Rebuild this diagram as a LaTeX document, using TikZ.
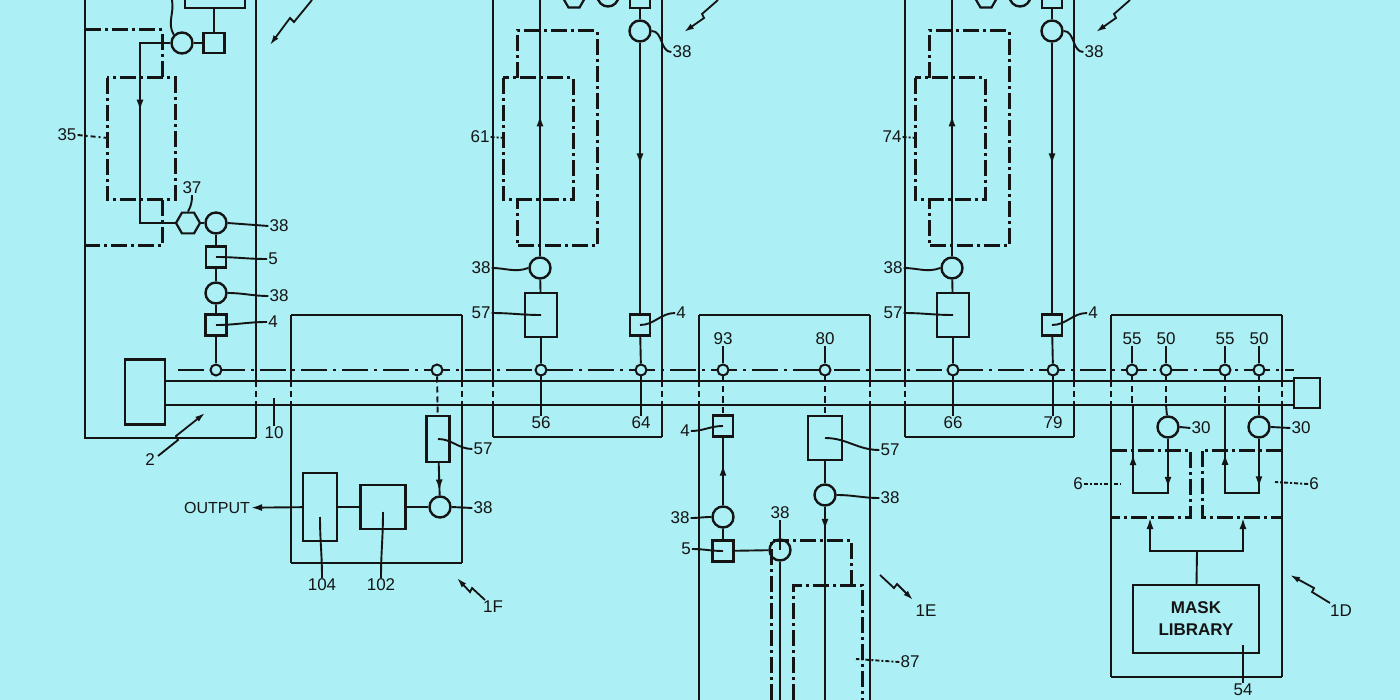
\documentclass[tikz,border=0pt]{standalone}
\usepackage{fontspec}
\setmainfont{Liberation Sans}
\usetikzlibrary{arrows.meta,shapes.geometric,decorations.markings}
\definecolor{bg}{RGB}{172,239,245}
\definecolor{ink}{RGB}{20,20,20}
\begin{document}
\begin{tikzpicture}[x=1pt,y=-1pt,
  ln/.style={draw=ink,line width=2.6pt},
  thin/.style={draw=ink,line width=1.9pt},
  dd/.style={draw=ink,line width=3pt,dash pattern=on 16pt off 4pt on 3pt off 4pt},
  dsh/.style={draw=ink,line width=1.9pt,dash pattern=on 6pt off 4pt},
  bx/.style={draw=ink,line width=2.4pt,fill=none,inner sep=0pt},
  lb/.style={font=\fontsize{17}{17}\selectfont,text=ink,inner sep=1pt},
  big/.style={draw=ink,line width=2.4pt,fill=bg,circle,minimum size=21pt,inner sep=0pt},
  sm/.style={draw=ink,line width=2pt,fill=bg,circle,minimum size=11pt,inner sep=0pt},
  hex/.style={draw=ink,line width=2.2pt,fill=bg,regular polygon,regular polygon sides=6,minimum size=24pt,inner sep=0pt},
  arr/.style={postaction={decorate},decoration={markings,mark=at position #1 with {\arrow[ink]{Latex[length=11pt,width=7pt]}}}},
  zz/.style={draw=ink,line width=1.8pt,-{Latex[length=10pt,width=6pt]}}]
\fill[bg] (0,0) rectangle (1400,700);
\useasboundingbox (0,0) rectangle (1400,700);

% ---------- bus ----------
\node[bx,minimum width=40pt,minimum height=65pt] (hd) at (145,392) {};
\node[bx,minimum width=26pt,minimum height=30pt] (tl) at (1307,393) {};
\coordinate (bt) at (165,381); \coordinate (bb) at (165,405);
\draw[ln,line width=2.8pt] (bt) -- (1294,381);
\draw[ln,line width=2.8pt] (bb) -- (1294,405);
\draw[thin,line width=1.6pt,dash pattern=on 26pt off 6pt on 3pt off 6pt] (178,370) -- (1294,370);

\newcommand\medge[3]{%
  \draw[ln] (#1,#2) -- (#1,381);
  \draw[dsh] (#1,381) -- (#1,405);
  \draw[ln] (#1,405) -- (#1,#3);}

% ---------- module 2 ----------
\draw[ln] (85,0) -- (85,438) -- (256,438);
\medge{256}{0}{438}
\node[bx,minimum width=60pt,minimum height=10pt] (t2) at (215,3) {};
\node[big] (c2a) at (182,43) {};
\node[bx,minimum width=21pt,minimum height=20pt] (s2a) at (214,43) {};
\draw[thin] (c2a) -- (s2a); \draw[thin] (s2a) -- (214,8);
\draw[thin] (c2a.north west) to[out=120,in=-80] (172,0);
\draw[dd] (85,30) -- (162,30) -- (162,78);
\draw[dd] (107,78) rectangle (175,200);
\draw[dd] (162,200) -- (162,246) -- (85,246);
\node[hex] (h37) at (188,223) {};
\node[big] (c38a) at (216,223) {};
\draw[thin,arr=0.4] (c2a.west) -- (140,43) -- (140,223) -- (h37.west);
\draw[thin] (h37) -- (c38a);
\node[bx,minimum width=20pt,minimum height=21pt] (s5) at (216,257) {};
\node[big] (c38b) at (216,293) {};
\node[bx,minimum width=21pt,minimum height=21pt] (s4) at (216,325) {};
\node[sm] (p2) at (216,370) {};
\draw[thin] (c38a) -- (s5) -- (c38b) -- (s4) -- (p2);
\node[lb] (l35) at (67,135) {35};
\draw[thin,dash pattern=on 5pt off 3pt on 2pt off 3pt] (l35.east) -- (108,138);
\node[lb] (l37) at (192,188) {37};
\draw[thin] (l37.south) to[out=-90,in=60] (h37.north);
\node[lb] (l38a) at (279,226) {38}; \draw[thin] (c38a.east) -- (l38a.west);
\node[lb] (l5) at (273,259) {5}; \draw[thin] (s5.center) to[out=0,in=180] (l5.west);
\node[lb] (l38b) at (279,296) {38}; \draw[thin] (c38b.east) to[out=0,in=180] (l38b.west);
\node[lb] (l4a) at (273,322) {4}; \draw[thin] (s4.center) to[out=0,in=180] (l4a.west);
\node[lb] (l2) at (150,460) {2};
\draw[zz] (158,456) -- (178,440) -- (176,436) -- (205,413);
\node[lb] (l10) at (274,433) {10}; \draw[thin] (l10.north) to[out=90,in=-90] (274,398);
\draw[zz] (312,0) -- (294,22) -- (290,18) -- (270,45);

% ---------- module 1F ----------
\draw[ln] (291,315) -- (462,315);
\medge{291}{315}{563}\medge{462}{315}{563}
\draw[ln] (291,563) -- (462,563);
\node[sm] (p1f) at (437,370) {};
\node[bx,minimum width=23pt,minimum height=46pt] (r57f) at (438,439) {};
\draw[dsh] (p1f) -- (r57f);
\node[big] (c38f) at (440,507) {};
\draw[thin,arr=0.85] (r57f) -- (c38f);
\node[bx,minimum width=45pt,minimum height=44pt] (b102) at (383,507) {};
\node[bx,minimum width=34pt,minimum height=68pt] (b104) at (320,507) {};
\draw[thin] (c38f) -- (b102); \draw[thin] (b102) -- (b104);
\node[lb,font=\fontsize{16}{16}\selectfont] (out) at (217,508) {OUTPUT};
\draw[thin,-{Latex[length=11pt,width=7pt]}] (b104) -- (out);
\node[lb] (l57f) at (483,449) {57}; \draw[thin] (r57f.center) to[out=0,in=180] (l57f.west);
\node[lb] (l38f) at (483,508) {38}; \draw[thin] (c38f.east) -- (l38f.west);
\node[lb] (l104) at (322,585) {104}; \draw[thin] (b104.center) ++(0,10) to[out=-90,in=90] (l104.north);
\node[lb] (l102) at (381,585) {102}; \draw[thin] (b102.center) ++(0,5) to[out=-90,in=90] (l102.north);
\node[lb] (l1f) at (493,607) {1F};
\draw[zz] (485,600) -- (472,588) -- (470,592) -- (457,578);

% ---------- modules 1B/1C ----------
\newcommand\modB[4]{%
\begin{scope}[xshift=#1pt]
\draw[ln] (493,437) -- (662,437);
\medge{493}{0}{437}\medge{662}{0}{437}
\draw[dd] (517,78) -- (517,31) -- (597,31) -- (597,246) -- (517,246) -- (517,200);
\draw[dd] (503,78) rectangle (573,200);
\node[hex,minimum size=22pt] at (574,-2) {};
\node[big] at (608,-4) {};
\node[bx,minimum width=20pt,minimum height=16pt] (ts) at (640,0) {};
\node[big] (c1) at (540,268) {};
\node[bx,minimum width=32pt,minimum height=44pt] (r57) at (541,315) {};
\node[sm] (pa) at (541,370) {};
\draw[thin,arr=0.55] (c1) -- (540,0);
\draw[thin] (c1) -- (r57) -- (pa);
\node[big] (c2) at (640,31) {};
\node[bx,minimum width=20pt,minimum height=21pt] (s4) at (640,325) {};
\node[sm] (pb) at (641,370) {};
\draw[thin] (ts) -- (c2);
\draw[thin,arr=0.45] (c2) -- (s4); \draw[thin] (s4) -- (pb);
\node[lb] (la) at (480,137) {#2}; \draw[thin,dash pattern=on 4pt off 2pt on 2pt off 2pt] (la.east) -- (505,138);
\node[lb] (l38c) at (481,268) {38}; \draw[thin] (l38c.east) to[out=0,in=200] (c1.west);
\node[lb] (l57) at (481,313) {57}; \draw[thin] (l57.east) to[out=0,in=180] (r57.center);
\node[lb] (l4) at (681,313) {4}; \draw[thin] (s4.center) to[out=0,in=180] (l4.west);
\node[lb] (l38d) at (682,52) {38}; \draw[thin] (c2.east) to[out=0,in=180] (l38d.west);
\node[lb] (lb) at (541,423) {#3}; \draw[thin] (pa.south) to[out=-90,in=90] (lb.north);
\node[lb] (lc) at (641,423) {#4}; \draw[thin] (pb.south) to[out=-90,in=90] (lc.north);
\draw[zz] (718,0) -- (702,14) -- (704,18) -- (684,32);
\end{scope}}
\modB{0}{61}{56}{64}
\modB{412}{74}{66}{79}

% ---------- module 1E ----------
\draw[ln] (699,315) -- (870,315);
\medge{699}{315}{700}\medge{870}{315}{700}
\node[sm] (p93) at (723,370) {};
\node[sm] (p80) at (825,370) {};
\node[bx,minimum width=20pt,minimum height=21pt] (s4e) at (723,426) {};
\node[big] (c38e) at (723,517) {};
\node[bx,minimum width=21pt,minimum height=21pt] (s5e) at (723,551) {};
\node[big] (c38g) at (780,550) {};
\draw[dsh] (p93) -- (s4e);
\draw[thin,arr=0.6] (c38e) -- (s4e);
\draw[thin] (c38e) -- (s5e) -- (c38g);
\draw[thin] (c38g.south) -- (780,700);
\draw[dd] (771,700) -- (771,540) -- (851,540) -- (851,585);
\draw[dd] (793,700) -- (793,585) -- (862,585) -- (862,700);
\node[bx,minimum width=34pt,minimum height=44pt] (r57e) at (825,438) {};
\node[big] (c38h) at (825,495) {};
\draw[dsh] (p80) -- (r57e);
\draw[thin] (r57e) -- (c38h);
\draw[thin,arr=0.12] (c38h) -- (825,700);
\node[lb] (l93) at (723,339) {93}; \draw[thin] (l93.south) to[out=-90,in=90] (p93.north);
\node[lb] (l80) at (825,339) {80}; \draw[thin] (l80.south) to[out=-90,in=90] (p80.north);
\node[lb] (l4e) at (685,431) {4}; \draw[thin] (l4e.east) to[out=0,in=180] (s4e.center);
\node[lb] (l38e) at (680,518) {38}; \draw[thin] (l38e.east) to[out=0,in=180] (c38e.west);
\node[lb] (l5e) at (686,549) {5}; \draw[thin] (l5e.east) to[out=0,in=180] (s5e.center);
\node[lb] (l38g) at (780,513) {38}; \draw[thin] (l38g.south) to[out=-90,in=90] (c38g.center);
\node[lb] (l57e) at (890,450) {57}; \draw[thin] (r57e.center) to[out=0,in=180] (l57e.west);
\node[lb] (l38h) at (890,498) {38}; \draw[thin] (c38h.east) to[out=0,in=180] (l38h.west);
\node[lb] (l87) at (910,662) {87}; \draw[thin,dash pattern=on 4pt off 2pt on 2pt off 2pt] (l87.west) -- (856,659);
\node[lb] (l1e) at (926,611) {1E};
\draw[zz] (880,575) -- (894,588) -- (897,584) -- (913,600);

% ---------- module 1D ----------
\draw[ln] (1111,315) -- (1282,315);
\medge{1111}{315}{677}\medge{1282}{315}{677}
\draw[ln] (1111,677) -- (1282,677);
\foreach \n/\x/\t in {a/1132/55,b/1166/50,c/1225/55,d/1259/50}{
  \node[sm] (q\n) at (\x,370) {};
  \node[lb] (m\n) at (\x,339) {\t};
  \draw[thin] (m\n.south) to[out=-90,in=90] (q\n.north);
  \draw[dsh] (q\n) -- (\x,405);}
\node[big] (c30a) at (1168,427) {};
\node[big] (c30b) at (1259,427) {};
\draw[thin,arr=0.6] (1168,493) -- (1133,493) -- (1133,405);
\draw[thin,arr=0.55] (c30a) -- (1168,493) -- (1133,493);
\draw[thin,arr=0.6] (1259,493) -- (1225,493) -- (1225,405);
\draw[thin,arr=0.55] (c30b) -- (1259,493) -- (1225,493);
\draw[thin] (1166,405) -- (c30a); \draw[thin] (1259,405) -- (c30b);
\draw[dd] (1111,450) -- (1190,450) -- (1190,517) -- (1111,517);
\draw[dd] (1282,450) -- (1202,450) -- (1202,517) -- (1282,517);
\node[bx,minimum width=126pt,minimum height=68pt,align=center,font=\fontsize{17}{22}\selectfont\bfseries,text=ink] (ml) at (1196,619) {MASK\\LIBRARY};
\coordinate (jn) at (1197,551);
\draw[thin] (ml) -- (jn);
\draw[thin,-{Latex[length=11pt,width=7pt]}] (jn) -- (1150,551) -- (1150,518);
\draw[thin,-{Latex[length=11pt,width=7pt]}] (jn) -- (1243,551) -- (1243,518);
\node[lb] (l30a) at (1201,428) {30}; \draw[thin] (c30a.east) -- (l30a.west);
\node[lb] (l30b) at (1301,428) {30}; \draw[thin] (c30b.east) -- (l30b.west);
\node[lb] (l6a) at (1078,484) {6}; \draw[thin,dash pattern=on 4pt off 2pt on 2pt off 2pt] (l6a.east) -- (1120,484);
\node[lb] (l6b) at (1314,484) {6}; \draw[thin,dash pattern=on 4pt off 2pt on 2pt off 2pt] (l6b.west) -- (1275,482);
\node[lb] (l54) at (1243,690) {54}; \draw[thin] (l54.north) to[out=90,in=-90] (1243,645);
\node[lb] (l1d) at (1341,611) {1D};
\draw[zz] (1330,603) -- (1312,592) -- (1314,588) -- (1290,575);
\end{tikzpicture}
\end{document}
